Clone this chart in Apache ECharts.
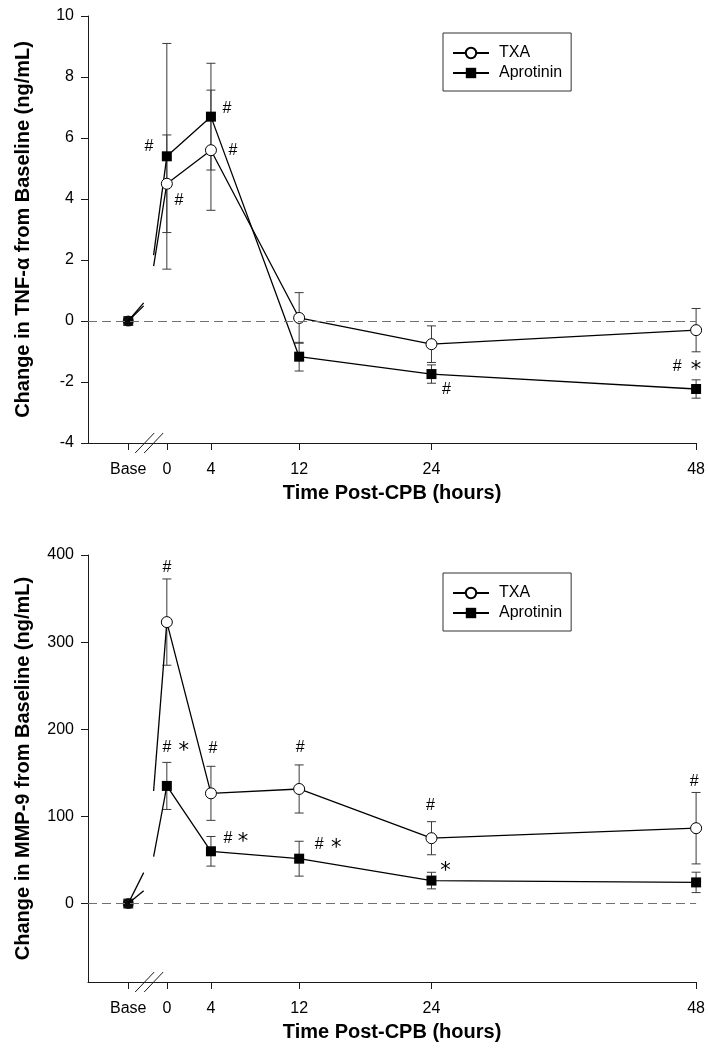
<!DOCTYPE html>
<html><head><meta charset="utf-8">
<script src="https://cdn.jsdelivr.net/npm/echarts@6/dist/echarts.min.js"></script>
<style>html,body{margin:0;padding:0;background:#fff}#c{width:708px;height:1050px}</style>
</head><body><div id="c"></div>
<script>
// ---------- data ----------
const hours = [0, 4, 12, 24, 48];
const basePos = -3.5;           // x position of the "Base" category on the hour scale
const baseValue = 0;            // change from baseline at baseline
const xTickPos = [-3.5, 0, 4, 12, 24, 48];
const xTickLabels = ['Base', '0', '4', '12', '24', '48'];

const tnfTXA    = [4.5, 5.6, 0.1, -0.76, -0.3];
const tnfTXAerr = [1.6, 1.97, 0.83, 0.6, 0.71];
const tnfApr    = [5.4, 6.7, -1.17, -1.74, -2.23];
const tnfAprErr = [3.7, 1.75, 0.47, 0.3, 0.3];

const mmpTXA    = [323, 126.5, 131.5, 75, 86.5];
const mmpTXAerr = [49.5, 31, 27.6, 19, 41];
const mmpApr    = [135, 60, 51.5, 26.4, 24.3];
const mmpAprErr = [27, 17, 20, 9.5, 11.7];

const yTicksTNF = [-4, -2, 0, 2, 4, 6, 8, 10];
const yTicksMMP = [0, 100, 200, 300, 400];

// significance marks: [series, hour index, symbol]
const tnfMarks = [['Apr',0,'#'],['TXA',0,'#'],['Apr',1,'#'],['TXA',1,'#'],['Apr',3,'#'],['Apr',4,'#'],['Apr',4,'*']];
const mmpMarks = [['TXA',0,'#'],['Apr',0,'#'],['Apr',0,'*'],['TXA',1,'#'],['TXA',2,'#'],
                  ['Apr',1,'#'],['Apr',1,'*'],['Apr',2,'#'],['Apr',2,'*'],['TXA',3,'#'],['Apr',3,'*'],['TXA',4,'#']];
// pixel offsets of the marks from their point
const tnfMarkOff = [[-18,-10],[12,17],[16,-8],[22,0],[15,16],[-19,-22],[0,-22]];
const mmpMarkOff = [[0,-55],[0,-38],[17,-38],[2,-45],[1,-41],[17,-13],[32,-13],[20,-14],[37,-14],[-1,-33],[14,-13],[-2,-47]];

// ---------- styling helpers ----------
const FONT = 'Liberation Sans, Arial, Helvetica, sans-serif';
const AX = '#1a1a1a';
// broken-axis rendering of the Base -> 0 h connection
const STUB_END_X = -2.1, STUB_FRAC = 0.11;   // end of the stub leaving the Base point
const RESUME_X = -1.2, RESUME_FRAC = 0.4;    // where the line resumes after the break

function xAxisCfg(gi) {
  return {
    type: 'value', gridIndex: gi, min: -7.15, max: 48,
    axisLine: { show: true, onZero: false, lineStyle: { color: AX, width: 1 } },
    axisTick: { show: true, length: 7, customValues: xTickPos, lineStyle: { color: AX, width: 1 } },
    axisLabel: {
      customValues: xTickPos, fontSize: 16, color: '#000', fontFamily: FONT, margin: 19,
      formatter: v => { const i = xTickPos.findIndex(p => Math.abs(p - v) < 1e-6); return i >= 0 ? xTickLabels[i] : ''; }
    },
    splitLine: { show: false },
    name: 'Time Post-CPB (hours)', nameLocation: 'middle', nameGap: 40,
    nameTextStyle: { fontSize: 20, fontWeight: 'bold', color: '#000', fontFamily: FONT }
  };
}
function yAxisCfg(gi, min, max, ticks, name) {
  return {
    type: 'value', gridIndex: gi, min: min, max: max,
    axisLine: { show: true, onZero: false, lineStyle: { color: AX, width: 1 } },
    axisTick: { show: true, length: 7, customValues: ticks, lineStyle: { color: AX, width: 1 } },
    axisLabel: { customValues: ticks, fontSize: 16, color: '#000', fontFamily: FONT, margin: 14 },
    splitLine: { show: false },
    name: name, nameLocation: 'middle', nameGap: 55,
    nameTextStyle: { fontSize: 20, fontWeight: 'bold', color: '#000', fontFamily: FONT }
  };
}

function pts(vals) { return hours.map((h, i) => [h, vals[i]]); }

function errSeries(gi, vals, errs) {
  return {
    type: 'custom', name: 'err' + gi, xAxisIndex: gi, yAxisIndex: gi, z: 1, silent: true,
    encode: { x: 0, y: 1 },
    data: hours.map((h, i) => [h, vals[i], errs[i]]),
    renderItem: (params, api) => {
      const x = api.value(0), y = api.value(1), e = api.value(2);
      const t = api.coord([x, y + e]), b = api.coord([x, y - e]);
      const c = 4.5, st = { stroke: '#3a3a3a', lineWidth: 1 };
      return { type: 'group', children: [
        { type: 'line', shape: { x1: t[0], y1: t[1], x2: b[0], y2: b[1] }, style: st },
        { type: 'line', shape: { x1: t[0] - c, y1: t[1], x2: t[0] + c, y2: t[1] }, style: st },
        { type: 'line', shape: { x1: b[0] - c, y1: b[1], x2: b[0] + c, y2: b[1] }, style: st }
      ]};
    }
  };
}

function mainSeries(gi, name, vals, isTXA) {
  const s = {
    type: 'line', name: name, xAxisIndex: gi, yAxisIndex: gi, z: 3,
    data: pts(vals), showSymbol: true,
    symbol: isTXA ? 'circle' : 'rect', symbolSize: isTXA ? 11 : 10,
    itemStyle: isTXA ? { color: '#fff', borderColor: '#000', borderWidth: 1 } : { color: '#000', borderColor: '#000', borderWidth: 0 },
    lineStyle: { color: '#000', width: 1.3 },
    emphasis: { disabled: true }
  };
  if (isTXA) {
    s.markLine = {
      silent: true, symbol: 'none', label: { show: false },
      lineStyle: { color: '#707070', type: [9, 5], width: 1 },
      data: [{ yAxis: baseValue }]
    };
  }
  return s;
}

function baseSegments(gi, vals, tag) {
  const v0 = vals[0];
  const val = f => baseValue + f * (v0 - baseValue);
  const common = { type: 'line', xAxisIndex: gi, yAxisIndex: gi, showSymbol: false, symbol: 'none', silent: true, z: 2,
                   lineStyle: { color: '#000', width: 1.3 } };
  return [
    Object.assign({ name: 'segA' + tag + gi, data: [[basePos, baseValue], [STUB_END_X, val(STUB_FRAC)]] }, common),
    Object.assign({ name: 'segB' + tag + gi, data: [[RESUME_X, val(RESUME_FRAC)], [hours[0], v0]] }, common)
  ];
}

function baseMarkers(gi) {
  return [
    { type: 'scatter', name: 'baseTXA' + gi, xAxisIndex: gi, yAxisIndex: gi, z: 4, silent: true,
      symbol: 'circle', symbolSize: 11, itemStyle: { color: '#000' }, data: [[basePos, baseValue]] },
    { type: 'scatter', name: 'baseApr' + gi, xAxisIndex: gi, yAxisIndex: gi, z: 4, silent: true,
      symbol: 'rect', symbolSize: 10, itemStyle: { color: '#000' }, data: [[basePos, baseValue]] }
  ];
}

function markSeries(gi, marks, offs, txa, apr) {
  return {
    type: 'custom', name: 'marks' + gi, xAxisIndex: gi, yAxisIndex: gi, z: 5, silent: true,
    encode: { x: 0, y: 1 },
    data: marks.map(m => [hours[m[1]], (m[0] === 'TXA' ? txa : apr)[m[1]]]),
    renderItem: (params, api) => {
      const p = api.coord([api.value(0), api.value(1)]);
      const m = marks[params.dataIndex], o = offs[params.dataIndex];
      const star = m[2] === '*';
      return { type: 'text', x: p[0] + o[0], y: p[1] + o[1] + (star ? 4 : 0),
        style: { text: m[2], fill: '#000', fontSize: star ? 21 : 16,
                 fontFamily: star ? 'DejaVu Sans, sans-serif' : FONT,
                 align: 'center', verticalAlign: 'middle' } };
    }
  };
}

function breakSeries(gi, yMin) {
  return {
    type: 'custom', name: 'break' + gi, xAxisIndex: gi, yAxisIndex: gi, z: 6, silent: true, clip: false,
    encode: { x: 0, y: 1 },
    data: [[-1.6, yMin]],
    renderItem: (params, api) => {
      const p = api.coord([api.value(0), api.value(1)]);
      const st = { stroke: '#1a1a1a', lineWidth: 1 };
      const sl = cx => ({ type: 'line', shape: { x1: cx - 9.5, y1: p[1] + 10, x2: cx + 9.5, y2: p[1] - 10 }, style: st });
      return { type: 'group', children: [sl(p[0] - 4.5), sl(p[0] + 4.5)] };
    }
  };
}

function legendCfg(top) {
  return {
    data: ['TXA', 'Aprotinin'], left: 443, top: top, orient: 'vertical',
    itemWidth: 36, itemHeight: 13, itemGap: 4,
    padding: [12, 9, 10, 9], borderColor: '#333', borderWidth: 1, backgroundColor: '#fff',
    textStyle: { fontSize: 16, color: '#000', fontFamily: FONT, padding: [0, 0, 0, 5] },
    selectedMode: false
  };
}

const option = {
  animation: false,
  backgroundColor: '#fff',
  grid: [
    { left: 88, top: 16, width: 609, height: 427 },
    { left: 88, top: 555, width: 609, height: 427 }
  ],
  xAxis: [xAxisCfg(0), xAxisCfg(1)],
  yAxis: [
    yAxisCfg(0, -4, 10, yTicksTNF, 'Change in TNF-\u03b1 from Baseline (ng/mL)'),
    yAxisCfg(1, -90, 400, yTicksMMP, 'Change in MMP-9 from Baseline (ng/mL)')
  ],
  legend: [legendCfg(33), legendCfg(573)],
  series: [
    mainSeries(0, 'TXA', tnfTXA, true),
    mainSeries(0, 'Aprotinin', tnfApr, false),
    mainSeries(1, 'TXA', mmpTXA, true),
    mainSeries(1, 'Aprotinin', mmpApr, false),
    errSeries(0, tnfTXA, tnfTXAerr),
    errSeries(0, tnfApr, tnfAprErr),
    errSeries(1, mmpTXA, mmpTXAerr),
    errSeries(1, mmpApr, mmpAprErr),
    ...baseSegments(0, tnfTXA, 'T'), ...baseSegments(0, tnfApr, 'A'),
    ...baseSegments(1, mmpTXA, 'T'), ...baseSegments(1, mmpApr, 'A'),
    ...baseMarkers(0), ...baseMarkers(1),
    markSeries(0, tnfMarks, tnfMarkOff, tnfTXA, tnfApr),
    markSeries(1, mmpMarks, mmpMarkOff, mmpTXA, mmpApr),
    breakSeries(0, -4), breakSeries(1, -90)
  ]
};

const chart = echarts.init(document.getElementById('c'), null, { renderer: 'canvas' });
chart.setOption(option);
</script>
</body></html>
